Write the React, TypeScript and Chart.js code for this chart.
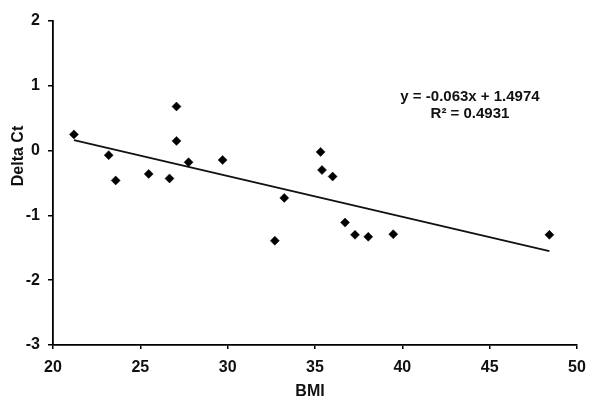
import React, { useEffect, useRef } from "react";
import { Chart, registerables } from "chart.js";

Chart.register(...registerables);

const bmi = [21.2, 23.19, 23.59, 25.48, 26.67, 27.07, 27.07, 27.76, 29.71, 32.7, 33.24, 35.32, 35.4, 36.01, 36.72, 37.29, 38.05, 39.48, 48.42];
const deltaCt = [0.25, -0.07, -0.46, -0.36, -0.43, 0.68, 0.15, -0.18, -0.145, -1.39, -0.73, -0.02, -0.3, -0.4, -1.11, -1.3, -1.33, -1.29, -1.3];
const trendX = [21.2, 48.42];
const trendY = [0.162, -1.553];
const xTicks = [20, 25, 30, 35, 40, 45, 50];
const yTicks = [-3, -2, -1, 0, 1, 2];
const equationLines = ["y = -0.063x + 1.4974", "R\u00b2 = 0.4931"];
const xTitle = "BMI";
const yTitle = "Delta Ct";

const FONT = "'Liberation Sans', Arial, sans-serif";

const textPlugin = {
  id: "texts",
  afterDraw(chart: any) {
    const ctx = chart.ctx;
    ctx.save();
    ctx.fillStyle = "#111";
    ctx.textAlign = "center";
    ctx.textBaseline = "middle";
    ctx.font = `bold 15px ${FONT}`;
    ctx.fillText(equationLines[0], 470, 97);
    ctx.fillText(equationLines[1], 470, 114);
    ctx.font = `bold 16px ${FONT}`;
    ctx.fillText(xTitle, 310, 392);
    ctx.translate(19, 156);
    ctx.rotate(-Math.PI / 2);
    ctx.fillText(yTitle, 0, 0);
    ctx.restore();
  },
};

export default function App() {
  const ref = useRef<HTMLCanvasElement | null>(null);
  useEffect(() => {
    if (!ref.current) return;
    const chart = new Chart(ref.current, {
      type: "scatter",
      data: {
        datasets: [
          {
            label: "Data",
            data: bmi.map((x, i) => ({ x, y: deltaCt[i] })),
            pointStyle: "rectRot",
            pointRadius: 4.5,
            backgroundColor: "#000",
            borderColor: "#000",
            borderWidth: 0.5,
            showLine: false,
          },
          {
            label: "Trend",
            type: "line",
            data: trendX.map((x, i) => ({ x, y: trendY[i] })),
            borderColor: "#111",
            borderWidth: 1.8,
            pointRadius: 0,
            fill: false,
          } as any,
        ],
      },
      options: {
        animation: false,
        responsive: false,
        devicePixelRatio: 1,
        layout: { padding: { left: 0, right: 23, top: 21, bottom: 0 } },
        plugins: { legend: { display: false }, tooltip: { enabled: false } },
        scales: {
          x: {
            type: "linear",
            min: 20,
            max: 50,
            afterBuildTicks: (s: any) => {
              s.ticks = xTicks.map((v) => ({ value: v }));
            },
            afterFit: (s: any) => {
              s.height = 65;
            },
            grid: { display: true, drawOnChartArea: false, drawTicks: true, tickLength: 4, color: "#000", lineWidth: 1.5 },
            border: { display: true, color: "#000", width: 1.8 },
            ticks: { color: "#111", font: { family: FONT, size: 16, weight: "bold" }, padding: 9, maxRotation: 0 },
          },
          y: {
            type: "linear",
            min: -3,
            max: 2,
            afterBuildTicks: (s: any) => {
              s.ticks = yTicks.map((v) => ({ value: v }));
            },
            afterFit: (s: any) => {
              s.width = 53;
            },
            grid: { display: true, drawOnChartArea: false, drawTicks: true, tickLength: 5, color: "#000", lineWidth: 1.5 },
            border: { display: true, color: "#000", width: 1.8 },
            ticks: { color: "#111", font: { family: FONT, size: 16, weight: "bold" }, padding: 8 },
          },
        },
      },
      plugins: [textPlugin],
    });
    return () => chart.destroy();
  }, []);
  return (
    <div style={{ position: "fixed", left: 0, top: 0, width: 600, height: 410, background: "#fff" }}>
      <canvas ref={ref} width={600} height={410} style={{ width: 600, height: 410, display: "block" }} />
    </div>
  );
}
